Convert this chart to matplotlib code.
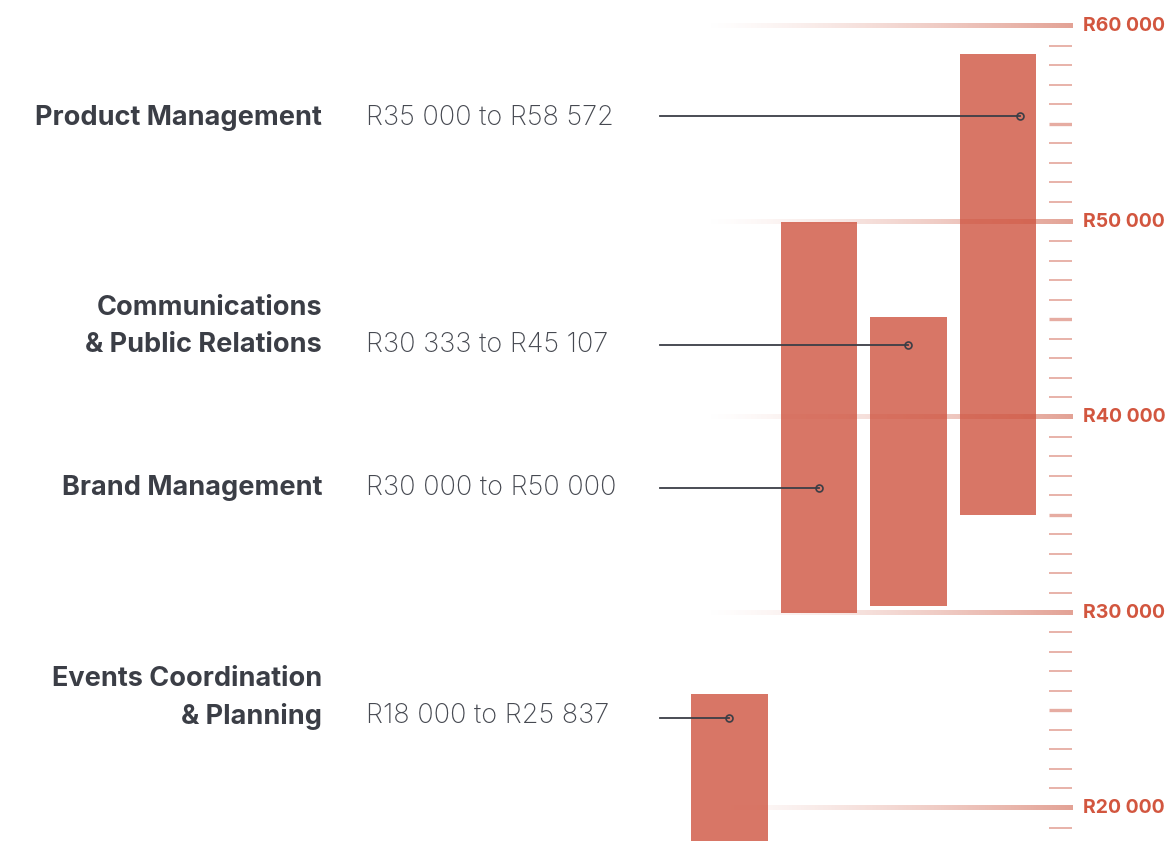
import matplotlib
matplotlib.use("Agg")
import matplotlib.pyplot as plt
import numpy as np
from matplotlib.transforms import blended_transform_factory

# data
roles = ["Events Coordination\n& Planning", "Brand Management",
         "Communications\n& Public Relations", "Product Management"]
low = [18000, 30000, 30333, 35000]
high = [25837, 50000, 45107, 58572]
range_text = ["R18 000 to R25 837", "R30 000 to R50 000",
              "R30 333 to R45 107", "R35 000 to R58 572"]
major_ticks = [20000, 30000, 40000, 50000, 60000]
major_labels = ["R20 000", "R30 000", "R40 000", "R50 000", "R60 000"]
minor_ticks = [v for v in range(19000, 61000, 1000) if v % 10000 != 0]

# layout (figure pixels from top)
W, H = 1168, 841
row_y = [716, 488, 345, 118]
line_y = [718, 488, 345, 116]
marker_dx = [0, 0, 0, 0.25]

bar_col = "#cf5440"
grid_col = "#e3a295"
tick_col = "#e6aca2"
lab_col = "#d2563f"
dark = "#3b3e46"
font = "Inter"

fig = plt.figure(figsize=(W / 100, H / 100), dpi=100)
ax = fig.add_axes([660 / W, 0, 412 / W, 1])
ax.axis("off")

ytr = ax.get_yaxis_transform()

# gradient gridlines
grad = np.zeros((1, 256, 4))
grad[..., :3] = matplotlib.colors.to_rgb(grid_col)
grad[..., 3] = np.linspace(0, 1, 256) ** 1.3
for v in major_ticks:
    ax.imshow(grad, extent=[0.109, 1.0, v - 125, v + 125], transform=ytr,
              aspect="auto", interpolation="bilinear", zorder=1)

# minor ticks
thin = [v for v in minor_ticks if v % 5000 != 0]
thick = [v for v in minor_ticks if v % 5000 == 0]
ax.hlines(thin, 0.945, 1.0, colors=tick_col, lw=1.3, transform=ytr, zorder=1)
ax.hlines(thick, 0.945, 1.0, colors=tick_col, lw=2.4, transform=ytr, zorder=1)

# bars
x = np.arange(len(roles))
ax.bar(x, np.array(high) - np.array(low), bottom=low, width=0.86,
       color=bar_col, alpha=0.8, zorder=2)
ax.set_xlim(-0.7765, 3.827)
ax.set_ylim(18312, 61330)

# tick labels
for v, s in zip(major_ticks, major_labels):
    ax.text(1.027, v, s, transform=ytr, ha="left", va="center",
            fontsize=14, fontweight="bold", color=lab_col, family=font)

# role labels, ranges and connectors
ctr = blended_transform_factory(ax.transData, fig.transFigure)
for i in range(len(roles)):
    yf = 1 - line_y[i] / H
    lines = roles[i].split("\n")
    for j, ln in enumerate(reversed(lines)):
        fig.text(322 / W, 1 - (row_y[i] - 37 * j) / H, ln, ha="right",
                 va="center", fontsize=19.5, fontweight="bold", color=dark,
                 family=font)
    fig.text(366 / W, 1 - row_y[i] / H, range_text[i], ha="left",
             va="center", fontsize=19.5, fontweight="light", color="#464951",
             family=font)
    ax.plot([-0.7765, x[i] + marker_dx[i]], [yf, yf], color=dark, lw=1.3,
            transform=ctr, zorder=3, clip_on=False)
    ax.plot([x[i] + marker_dx[i]], [yf], marker="o", ms=5, mfc="none",
            mec=dark, mew=1.2, transform=ctr, zorder=4, clip_on=False)

fig.savefig("out.png", dpi=100)
